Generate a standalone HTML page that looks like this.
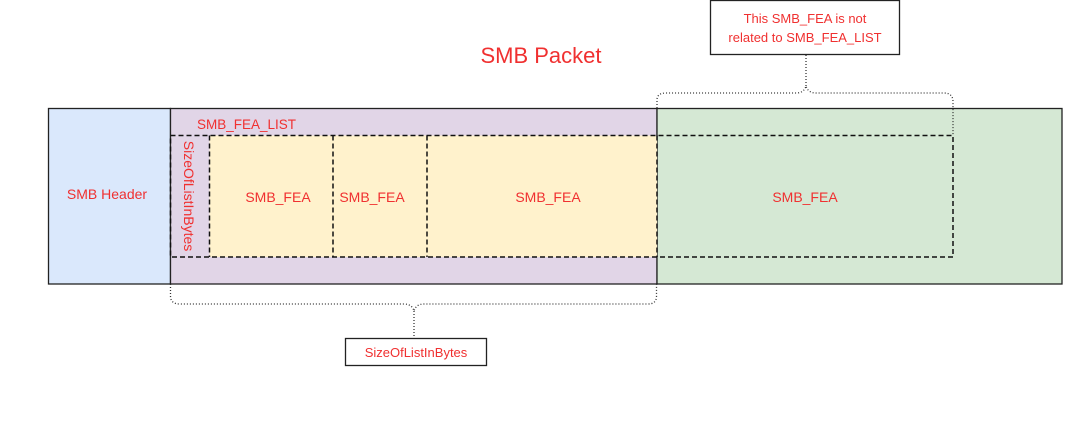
<!DOCTYPE html>
<html><head><meta charset="utf-8"><style>
html,body{margin:0;padding:0;background:#fff;width:1080px;height:426px;overflow:hidden}
svg{display:block}
text{font-family:"Liberation Sans",Arial,sans-serif;fill:#f03030}
</style></head><body>
<svg width="1080" height="426" viewBox="0 0 1080 426" xmlns="http://www.w3.org/2000/svg">
<text x="541" y="63" font-size="22" text-anchor="middle">SMB Packet</text>
<rect x="48.5" y="108.5" width="122" height="175.5" fill="#dae8fc" stroke="#222" stroke-width="1.3"/>
<rect x="170.5" y="108.5" width="486.5" height="175.5" fill="#e1d5e7" stroke="#222" stroke-width="1.3"/>
<rect x="657" y="108.5" width="405" height="175.5" fill="#d5e8d4" stroke="#222" stroke-width="1.3"/>
<rect x="209.5" y="135.5" width="447.5" height="121.5" fill="#fff2cc"/>
<g fill="none" stroke="#111" stroke-width="1.5" stroke-dasharray="5,3">
<rect x="170.5" y="135.5" width="782.5" height="121.5"/>
<line x1="209.5" y1="135.5" x2="209.5" y2="257"/>
<line x1="333" y1="135.5" x2="333" y2="257"/>
<line x1="427" y1="135.5" x2="427" y2="257"/>
<line x1="657" y1="135.5" x2="657" y2="257"/>
</g>
<text x="197" y="129" font-size="13.5">SMB_FEA_LIST</text>
<text x="107" y="199" font-size="14" text-anchor="middle">SMB Header</text>
<text x="278" y="202" font-size="14" text-anchor="middle">SMB_FEA</text>
<text x="372" y="202" font-size="14" text-anchor="middle">SMB_FEA</text>
<text x="548" y="202" font-size="14" text-anchor="middle">SMB_FEA</text>
<text x="805" y="202" font-size="14" text-anchor="middle">SMB_FEA</text>
<text transform="translate(184,196) rotate(90)" font-size="14" text-anchor="middle">SizeOfListInBytes</text>
<g fill="none" stroke="#333" stroke-width="1.3" stroke-dasharray="1,2">
<path d="M170.5 284 L170.5 296 Q170.5 304 180 304 L404 304 Q412 304 414 311 Q416 304 424 304 L648 304 Q656.5 304 656.5 296 L656.5 284"/>
<line x1="414" y1="311" x2="414" y2="338"/>
<path d="M657 108 L657 100 Q657 93 666 93 L796 93 Q804 93 806 86 Q808 93 816 93 L944 93 Q953 93 953 102 L953 135"/>
<line x1="806" y1="86" x2="806" y2="54"/>
</g>
<rect x="710.5" y="0.5" width="189" height="54" fill="#fff" stroke="#222" stroke-width="1.3"/>
<text x="805" y="23" font-size="13" text-anchor="middle">This SMB_FEA is not</text>
<text x="805" y="42" font-size="13" text-anchor="middle">related to SMB_FEA_LIST</text>
<rect x="345.5" y="338.5" width="141" height="27" fill="#fff" stroke="#222" stroke-width="1.3"/>
<text x="416" y="357" font-size="13" text-anchor="middle">SizeOfListInBytes</text>
</svg>
</body></html>
